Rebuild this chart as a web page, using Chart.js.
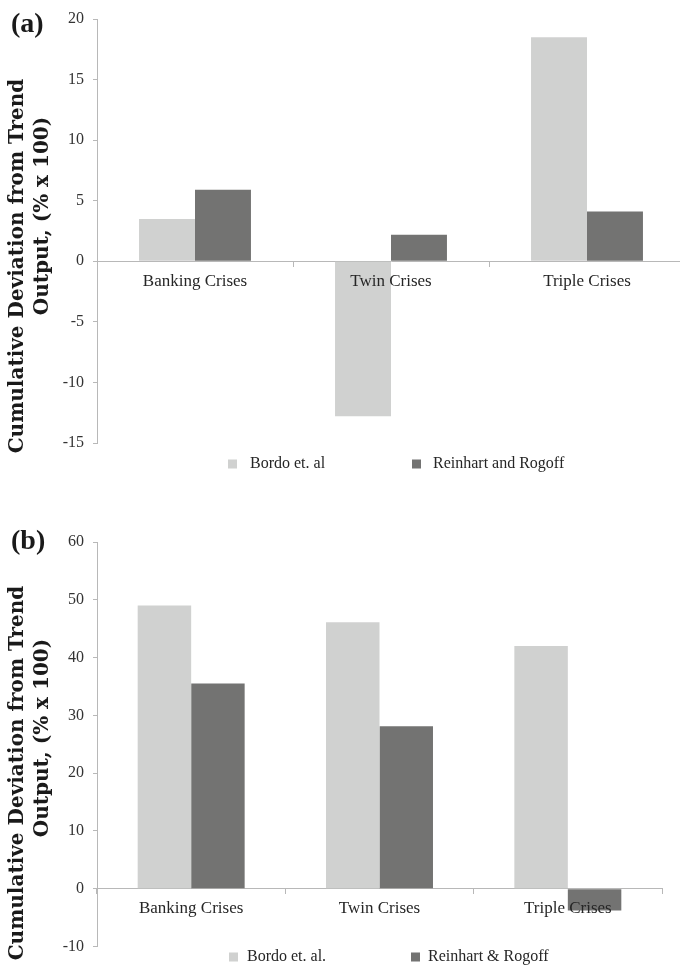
<!DOCTYPE html>
<html>
<head>
<meta charset="utf-8">
<script src="https://cdn.jsdelivr.net/npm/chart.js@4/dist/chart.umd.min.js"></script>
<style>
  html, body { margin: 0; padding: 0; background: #fff; overflow: hidden; width: 680px; height: 965px; }
  .panel { position: absolute; left: 0; width: 680px; overflow: hidden; }
  #panelA { top: 0; height: 480px; }
  #panelB { top: 490px; height: 475px; }
  canvas { display: block; }
</style>
</head>
<body>
<div class="panel" id="panelA"><canvas id="chartA" width="690" height="480" style="width:690px;height:480px"></canvas></div>
<div class="panel" id="panelB"><canvas id="chartB" width="680" height="475" style="width:680px;height:475px"></canvas></div>
<script>
// Crisis types on the category axis
const categories = ['Banking Crises', 'Twin Crises', 'Triple Crises'];

// Panel (a): cumulative deviation from trend output
const bordoA = [3.5, -12.8, 18.5];
const reinhartA = [5.9, 2.2, 4.1];

// Panel (b)
const bordoB = [49.0, 46.1, 42.0];
const reinhartB = [35.5, 28.1, -3.8];

// Value axis ticks
const yTicksA = [-15, -10, -5, 0, 5, 10, 15, 20];
const yTicksB = [-10, 0, 10, 20, 30, 40, 50, 60];

// Series names shown in each legend
const seriesA = ['Bordo et. al', 'Reinhart and Rogoff'];
const seriesB = ['Bordo et. al.', 'Reinhart & Rogoff'];

const yTitle = ['Cumulative Deviation from Trend', 'Output, (% x 100)'];

const LIGHT = '#d0d1d0';
const DARK = '#737372';
const AXIS = '#b8b8b8';
const SERIF = '"Liberation Serif", "Times New Roman", serif';

// Panel letter, rotated two-line value-axis title and a flat legend row
const decorations = {
  id: 'decorations',
  afterDraw(chart, args, o) {
    const ctx = chart.ctx;
    ctx.save();
    ctx.fillStyle = '#1a1a1a';
    ctx.font = 'bold 28px ' + SERIF;
    ctx.textAlign = 'left';
    ctx.textBaseline = 'middle';
    ctx.fillText(o.panel, o.panelX, o.panelY);

    ctx.font = o.titleFont;
    ctx.textAlign = 'center';
    ctx.textBaseline = 'alphabetic';
    o.titleLines.forEach((line, i) => {
      ctx.save();
      ctx.translate(o.titleX[i], o.titleY[i]);
      ctx.rotate(-Math.PI / 2);
      ctx.fillText(line, 0, 0);
      ctx.restore();
    });

    ctx.font = '16px ' + SERIF;
    ctx.textAlign = 'left';
    ctx.textBaseline = 'middle';
    chart.data.datasets.forEach((ds, i) => {
      ctx.fillStyle = ds.backgroundColor;
      ctx.fillRect(o.legendX[i], o.legendY - 4.5, 9, 9);
      ctx.fillStyle = '#262626';
      ctx.fillText(ds.label, o.legendTextX[i], o.legendY);
    });
    ctx.restore();
  }
};

function makeChart(id, names, bordo, reinhart, ticks, pct, padding, deco) {
  return new Chart(document.getElementById(id), {
    type: 'bar',
    data: {
      labels: categories,
      datasets: [
        { label: names[0], data: bordo, backgroundColor: LIGHT, borderWidth: 0,
          barPercentage: 1, categoryPercentage: pct },
        { label: names[1], data: reinhart, backgroundColor: DARK, borderWidth: 0,
          barPercentage: 1, categoryPercentage: pct }
      ]
    },
    options: {
      responsive: false,
      animation: false,
      devicePixelRatio: 1,
      layout: { padding },
      plugins: {
        legend: { display: false },
        tooltip: { enabled: false },
        decorations: deco
      },
      scales: {
        x: {
          type: 'category',
          position: { y: 0 },
          offset: true,
          grid: { display: true, drawOnChartArea: false, drawTicks: true, tickLength: 5,
                  color: AXIS, offset: true },
          border: { display: true, color: AXIS, width: 1 },
          ticks: { font: { family: SERIF, size: 17 }, color: '#262626', padding: 5, z: 1,
                   maxRotation: 0, autoSkip: false }
        },
        y: {
          min: ticks[0],
          max: ticks[ticks.length - 1],
          afterFit(scale) { scale.width = 97; },
          afterBuildTicks(scale) { scale.ticks = ticks.map(v => ({ value: v })); },
          grid: { drawOnChartArea: false, drawTicks: true, tickLength: 4, color: AXIS },
          border: { display: true, color: AXIS, width: 1 },
          ticks: { font: { family: SERIF, size: 16 }, color: '#333', padding: 9 }
        }
      }
    },
    plugins: [decorations]
  });
}

makeChart('chartA', seriesA, bordoA, reinhartA, yTicksA, 0.571,
  { left: 0, top: 19, right: 5, bottom: 37 },
  { panel: '(a)', panelX: 11, panelY: 25,
    titleFont: 'bold 20px "DejaVu Serif", serif',
    titleLines: yTitle, titleX: [23, 48], titleY: [266, 216],
    legendX: [228, 412], legendTextX: [250, 433], legendY: 464 });

makeChart('chartB', seriesB, bordoB, reinhartB, yTicksB, 0.568,
  { left: 0, top: 52, right: 18, bottom: 15 },
  { panel: '(b)', panelX: 11, panelY: 52,
    titleFont: 'bold 20px "DejaVu Serif", serif',
    titleLines: yTitle, titleX: [23, 48], titleY: [283, 248],
    legendX: [229, 411], legendTextX: [247, 428], legendY: 467 });
</script>
</body>
</html>
